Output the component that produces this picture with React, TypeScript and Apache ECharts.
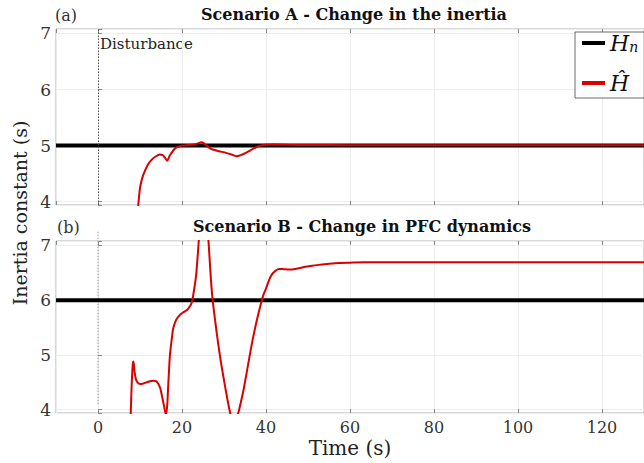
import React, { useEffect, useRef } from 'react';
import * as echarts from 'echarts';

// ---- data ----
const timeRange = [-10, 130];
const yRange = [3.94, 7.08];
const hnA = 5; // nominal inertia, scenario A
const hnB = 6; // nominal inertia, scenario B
const disturbanceTime = 0;

const hatA_t = [9.3, 9.6, 10.0, 10.4, 10.8, 11.8, 12.8, 13.8, 14.7, 15.4, 15.9, 16.5, 17.0, 17.5, 18.1, 18.7, 19.5, 20.2, 21.5, 22.8, 23.8, 24.6, 25.2, 25.8, 26.5, 27.3, 28.8, 30.5, 31.8, 32.9, 34.0, 35.2, 36.4, 37.6, 38.8, 40, 42, 45, 50, 60, 80, 100, 130];
const hatA_v = [3.6, 3.94, 4.24, 4.38, 4.48, 4.65, 4.75, 4.81, 4.84, 4.83, 4.79, 4.73, 4.81, 4.87, 4.93, 4.97, 4.99, 5.0, 5.01, 5.02, 5.04, 5.06, 5.04, 5.0, 4.96, 4.93, 4.9, 4.87, 4.84, 4.81, 4.83, 4.87, 4.92, 4.97, 5.0, 5.015, 5.02, 5.015, 5.01, 5.008, 5.008, 5.008, 5.008];

const hatB_t = [7.75, 7.9, 8.1, 8.3, 8.45, 8.7, 9.05, 9.5, 10, 10.8, 11.6, 12.4, 13.1, 13.8, 14.3, 14.8, 15.1, 15.5, 15.9, 16.2, 16.5, 16.7, 16.9, 17.1, 17.5, 17.9, 18.5, 19.05, 19.8, 20.6, 21.3, 21.8, 22.3, 22.6, 23.0, 23.4, 24.0, 24.6, 25.2, 25.8, 26.3, 26.9, 27.3, 27.9, 28.5, 29.1, 29.7, 30.5, 31.3, 32.4, 33.6, 34.2, 34.8, 35.8, 36.8, 37.8, 38.8, 39.4, 40, 40.8, 41.5, 42.3, 43.1, 44.3, 45.5, 47, 49.4, 51, 53.3, 55, 57.3, 60, 63.6, 70, 80, 100, 130];
const hatB_v = [3.8, 4.2, 4.6, 4.85, 4.88, 4.7, 4.55, 4.49, 4.47, 4.48, 4.5, 4.52, 4.53, 4.52, 4.48, 4.4, 4.3, 4.15, 4.0, 3.9, 4.1, 4.42, 4.7, 4.97, 5.25, 5.48, 5.62, 5.69, 5.75, 5.79, 5.83, 5.88, 5.95, 6.06, 6.25, 6.48, 7.09, 7.7, 7.9, 7.6, 7.09, 6.36, 6.0, 5.62, 5.27, 4.95, 4.67, 4.32, 4.0, 3.7, 4.0, 4.2, 4.42, 4.85, 5.27, 5.63, 5.94, 6.1, 6.21, 6.38, 6.48, 6.54, 6.57, 6.565, 6.56, 6.57, 6.61, 6.63, 6.65, 6.665, 6.68, 6.685, 6.69, 6.69, 6.69, 6.69, 6.69];

const titleA = 'Scenario A - Change in the inertia';
const titleB = 'Scenario B - Change in PFC dynamics';
const xTitle = 'Time (s)';
const yTitle = 'Inertia constant (s)';

const FONT = 'DejaVu Serif';
const RED = '#d90000';

export default function App() {
  const ref = useRef<HTMLDivElement>(null);
  useEffect(() => {
    const chart = echarts.init(ref.current!, null, { renderer: 'svg' });
    const pair = (t: number[], v: number[]) => t.map((x, i) => [x, v[i]]);

    const xFmt = (v: number) => (Math.abs(v % 20) < 1e-6 ? String(v) : '');
    const yFmt = (v: number) => (Math.abs(v - Math.round(v)) < 1e-6 ? String(Math.round(v)) : '');

    const xAxisBottom = (gridIndex: number, labels: boolean) => ({
      type: 'value',
      gridIndex,
      min: timeRange[0],
      max: timeRange[1],
      splitNumber: 7,
      axisLine: { show: false },
      axisTick: { show: true, inside: true, length: 4, lineStyle: { color: '#888' } },
      splitLine: { show: true, lineStyle: { color: '#ededed', width: 1 } },
      axisLabel: {
        show: labels,
        formatter: xFmt,
        fontFamily: FONT,
        fontSize: 16,
        color: '#333',
        margin: 6,
        showMinLabel: false,
        showMaxLabel: false,
      },
      ...(labels
        ? {
            name: xTitle,
            nameLocation: 'middle',
            nameGap: 25,
            nameTextStyle: { fontFamily: FONT, fontSize: 20, color: '#222', verticalAlign: 'top' },
          }
        : {}),
    });
    const xAxisTop = (gridIndex: number) => ({
      type: 'value',
      gridIndex,
      position: 'top',
      min: timeRange[0],
      max: timeRange[1],
      splitNumber: 7,
      axisLine: { show: false },
      axisTick: { show: true, inside: true, length: 4, lineStyle: { color: '#888' } },
      splitLine: { show: false },
      axisLabel: { show: false },
    });
    const yAxis = (gridIndex: number) => ({
      type: 'value',
      gridIndex,
      min: yRange[0],
      max: yRange[1],
      splitNumber: 3,
      axisLine: { show: false },
      axisTick: { show: true, inside: true, length: 4, lineStyle: { color: '#888' } },
      splitLine: { show: true, lineStyle: { color: '#ededed', width: 1 } },
      axisLabel: {
        formatter: yFmt,
        fontFamily: FONT,
        fontSize: 17,
        color: '#333',
        margin: 5,
      },
    });

    const option: any = {
      animation: false,
      backgroundColor: '#fff',
      grid: [
        { left: 56, right: -3, top: 29, bottom: 258, show: true, borderColor: '#b0b0b0', borderWidth: 1, backgroundColor: 'transparent' },
        { left: 56, right: -3, top: 241, bottom: 50, show: true, borderColor: '#b0b0b0', borderWidth: 1, backgroundColor: 'transparent' },
      ],
      xAxis: [xAxisBottom(0, false), xAxisBottom(1, true), xAxisTop(0), xAxisTop(1)],
      yAxis: [yAxis(0), yAxis(1)],
      legend: {
        data: [
          { name: 'Hn', icon: 'rect', itemStyle: { color: '#000' } },
          { name: 'Hhat', icon: 'rect', itemStyle: { color: RED } },
        ],
        orient: 'vertical',
        left: 575,
        top: 32,
        padding: [0, 6, 4, 7],
        itemGap: 18,
        itemWidth: 23,
        itemHeight: 4,
        borderColor: '#444',
        borderWidth: 0.8,
        borderRadius: 0,
        backgroundColor: '#fff',
        selectedMode: false,
        formatter: (name: string) => (name === 'Hn' ? '{h|H}{s|n}' : '{h|Ĥ}'),
        textStyle: {
          fontFamily: FONT,
          color: '#111',
          rich: {
            h: { fontFamily: FONT, fontStyle: 'italic', fontSize: 22, lineHeight: 22, color: '#111' },
            s: { fontFamily: FONT, fontStyle: 'italic', fontSize: 14, lineHeight: 8, verticalAlign: 'bottom', color: '#111' },
          },
        },
      },
      series: [
        {
          name: 'Hn',
          type: 'line',
          xAxisIndex: 0,
          yAxisIndex: 0,
          data: [[timeRange[0], hnA], [timeRange[1], hnA]],
          symbol: 'none',
          lineStyle: { color: '#000', width: 4 },
          itemStyle: { color: '#000' },
          markLine: {
            silent: true,
            symbol: 'none',
            label: { show: false },
            lineStyle: { color: '#555', type: [1.5, 1.5], width: 1 },
            data: [{ xAxis: disturbanceTime }],
          },
        },
        {
          name: 'Hhat',
          type: 'line',
          xAxisIndex: 0,
          yAxisIndex: 0,
          data: pair(hatA_t, hatA_v),
          symbol: 'none',
          smooth: 0.25,
          lineStyle: { color: RED, width: 2 },
          itemStyle: { color: RED },
        },
        {
          type: 'line',
          xAxisIndex: 1,
          yAxisIndex: 1,
          data: [[disturbanceTime, 7.25], [disturbanceTime, 4.08]],
          clip: false,
          symbol: 'none',
          lineStyle: { color: '#999', type: [1.5, 1.5], width: 1 },
          silent: true,
        },
        {
          name: 'Hn',
          type: 'line',
          xAxisIndex: 1,
          yAxisIndex: 1,
          data: [[timeRange[0], hnB], [timeRange[1], hnB]],
          symbol: 'none',
          lineStyle: { color: '#000', width: 4 },
          itemStyle: { color: '#000' },
        },
        {
          name: 'Hhat',
          type: 'line',
          xAxisIndex: 1,
          yAxisIndex: 1,
          data: pair(hatB_t, hatB_v),
          symbol: 'none',
          smooth: 0.25,
          lineStyle: { color: RED, width: 2 },
          itemStyle: { color: RED },
        },
      ],
      graphic: [
        { type: 'text', x: 55, y: 15, style: { text: '(a)', fontFamily: FONT, fontSize: 16, fill: '#333', verticalAlign: 'middle' } },
        { type: 'text', x: 57, y: 227, style: { text: '(b)', fontFamily: FONT, fontSize: 16, fill: '#333', verticalAlign: 'middle' } },
        { type: 'text', x: 354, y: 14, style: { text: titleA, fontFamily: FONT, fontWeight: 'bold', fontSize: 16, fill: '#111', align: 'center', verticalAlign: 'middle' } },
        { type: 'text', x: 362, y: 226, style: { text: titleB, fontFamily: FONT, fontWeight: 'bold', fontSize: 16, fill: '#111', align: 'center', verticalAlign: 'middle' } },
        { type: 'text', x: 100, y: 44, style: { text: 'Disturbance', fontFamily: FONT, fontSize: 15, fill: '#222', verticalAlign: 'middle' } },
        { type: 'text', x: 20, y: 213, rotation: Math.PI / 2, style: { text: yTitle, fontFamily: FONT, fontSize: 19, fill: '#222', align: 'center', verticalAlign: 'middle' } },
      ],
    };
    chart.setOption(option);
    return () => chart.dispose();
  }, []);
  return <div ref={ref} style={{ position: 'absolute', left: 0, top: 0, width: 644, height: 463 }} />;
}
